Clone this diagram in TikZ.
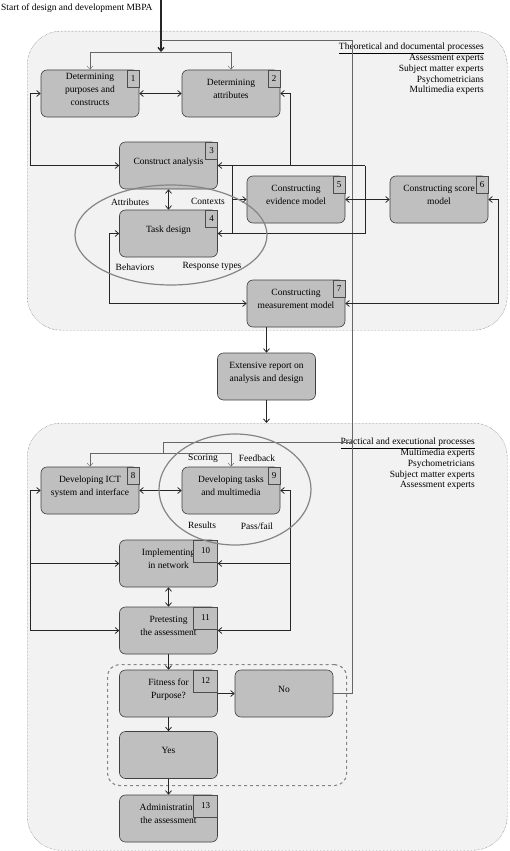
\documentclass[tikz,border=0pt]{standalone}
\usepackage{fontspec}
\setmainfont{Liberation Serif}
\usetikzlibrary{arrows.meta,shapes.geometric,calc}

\colorlet{boxgray}{black!25}
\colorlet{phasegray}{black!5}
\colorlet{ringgray}{black!48}

\begin{document}
\begin{tikzpicture}[x=1pt,y=-1pt,
   >={Straight Barb[length=3.5pt,width=6pt]},
   every node/.style={font=\fontsize{9.5}{13}\selectfont},
   proc/.style={draw=black!75,line width=0.6pt,fill=boxgray,rounded corners=6pt,minimum width=98pt,
                minimum height=47pt,align=center,inner sep=1pt,text depth=9pt},
   numbox/.style={draw=black!70,line width=0.5pt,fill=boxgray,minimum width=12pt,minimum height=17pt,
                  inner sep=0pt,anchor=north east,font=\fontsize{9}{10}\selectfont},
   phase/.style={draw=black!70,densely dotted,fill=phasegray,rounded corners=34pt,anchor=north west},
   ring/.style={draw=ringgray,line width=1.2pt,ellipse,inner sep=0pt},
   link/.style={draw=black!85,line width=0.8pt},
   thread/.style={draw=black!60,thin},
   tag/.style={inner sep=0pt}]
  \useasboundingbox (0,0) rectangle (510,851);
   \coordinate (start) at (161,0);
   \coordinate (split1) at (161,52);
   \coordinate (fbtop) at (352,40);
   \coordinate (fbmid) at (352,442);
   \coordinate (split2) at (163,453);
   \coordinate (ctxl) at (232,165.5);
   \coordinate (ctxr) at (365,165.5);
  % the two phases
  \node[phase,minimum width=480pt,minimum height=299pt] (theory) at (27,31) {};
  \node[phase,minimum width=480pt,minimum height=427pt] (practice) at (27,423) {};
  \node[draw=ringgray,dashed,line width=1.1pt,rounded corners=12pt,minimum width=239pt,
        minimum height=121pt,anchor=north west] (check) at (107,664) {};

  \node[tag,anchor=west] (title) at (1,8) {Start of design and development MBPA};
  \node[tag,anchor=north east,align=right,font=\fontsize{9.5}{10.8}\selectfont] (theorylist) at (484,43)
     {\underline{Theoretical and documental processes}\\Assessment experts\\Subject matter experts\\Psychometricians\\Multimedia experts};
  \node[tag,anchor=north east,align=right,font=\fontsize{9.5}{10.8}\selectfont] (practicelist) at (475,438)
     {\underline{Practical and executional processes}\\Multimedia experts\\Psychometricians\\Subject matter experts\\Assessment experts};

  % process boxes
  \node[proc] (purp) at (90,93.5) {Determining\\purposes and\\constructs};
  \node[proc] (attr) at (231,93.5) {Determining\\attributes};
  \node[proc] (conan) at (168.5,165.5) {Construct analysis};
  \node[proc] (task) at (168.5,233.5) {Task design};
  \node[proc] (evid) at (296,199.5) {Constructing\\evidence model};
  \node[proc] (score) at (439,199.5) {Constructing score\\model};
  \node[proc] (meas) at (296,303.5) {Constructing\\measurement model};
  \node[proc] (report) at (266.5,376.5) {Extensive report on\\analysis and design};
  \node[proc] (ict) at (90,490.5) {Developing ICT\\system and interface};
  \node[proc] (dev) at (231,490.5) {Developing tasks\\and multimedia};
  \node[proc] (impl) at (168.5,563.5) {Implementing\\in network};
  \node[proc] (pretest) at (168.5,630.5) {Pretesting\\the assessment};
  \node[proc] (fit) at (168.5,693.5) {Fitness for\\Purpose?};
  \node[proc] (no) at (284,693.5) {No};
  \node[proc] (yes) at (168.5,755) {Yes};
  \node[proc] (admin) at (168.5,818.5) {Administrating\\the assessment};
  \foreach \n/\k in {purp/1,attr/2,conan/3,task/4,evid/5,score/6,meas/7,ict/8,dev/9}
    \node[numbox] (\n-no) at (\n.north east) {\k};
  \foreach \n/\k in {impl/10,pretest/11,fit/12,admin/13}
    \node[numbox,minimum width=24pt,minimum height=22pt] (\n-no) at (\n.north east) {\k};

  % start and the loop back from No
  \draw[link,line width=1.4pt,->] (start) -- (split1);
  \draw[thread,->] (split1) -| (purp.north);
  \draw[thread,->] (split1) -| (attr.north);
  \draw[thread] (no.east) -| (fbtop) -- (start |- fbtop);
  \draw[thread] (fbmid) -| (split2);
  \draw[thread,->] (split2) -| (ict.north);
  \draw[thread,->] (split2) -| (dev.north);

  % theoretical phase
  \draw[link,<->] (purp) -- (attr);
  \draw[link,<->] (purp.west) -- ++(-10,0) |- (conan.west);
  \draw[link,<->] (attr.east) -- ++(10,0) |- (conan.east);
  \draw[link,<->] (conan) -- (task);
  \draw[link] (conan.east) -- (ctxr);
  \draw[link,->] (ctxr) |- (task.east);
  \draw[link] (ctxl) -- (ctxl |- task.east);
  \draw[link,->] (ctxl |- evid.west) -- (evid.west);
  \draw[link,<->] (evid) -- (score);
  \draw[link,<->] (score.east) -- ++(10,0) |- (meas.east);
  \draw[link,<->] (task.west) -- ++(-10,0) |- (meas.west);
  \draw[link,->] (report.north |- meas.south) -- (report);
  \draw[link,->] (report) -- (report |- practice.north);

  % practical phase
  \draw[link,<->] (ict) -- (dev);
  \draw[link,<->] (ict.west) -- ++(-10,0) coordinate (lrail) |- (pretest.west);
  \draw[link,->] (lrail |- impl.west) -- (impl.west);
  \draw[link,<->] (dev.east) -- ++(10,0) coordinate (rrail) |- (pretest.east);
  \draw[link,->] (rrail |- impl.east) -- (impl.east);
  \draw[link,<->] (impl) -- (pretest);
  \draw[link,->] (pretest) -- (fit);
  \draw[link,->] (fit) -- (no);
  \draw[link,->] (fit) -- (yes);
  \draw[link,->] (yes) -- (admin);

  % rings with their labels
  \node[ring,minimum width=192pt,minimum height=100pt] (designring) at (171,235) {};
  \node[ring,minimum width=152pt,minimum height=111pt] (buildring) at (235,489.5) {};
  \node[tag] (attrlbl) at (130,202) {Attributes};
  \node[tag] (ctxlbl) at (208,201) {Contexts};
  \node[tag] (behlbl) at (135,267) {Behaviors};
  \node[tag] (resplbl) at (212,266) {Response types};
  \node[tag] (scorelbl) at (203,458) {Scoring};
  \node[tag] (fblbl) at (257,458) {Feedback};
  \node[tag] (reslbl) at (202,525) {Results};
  \node[tag] (passlbl) at (257,526) {Pass/fail};
\end{tikzpicture}
\end{document}
